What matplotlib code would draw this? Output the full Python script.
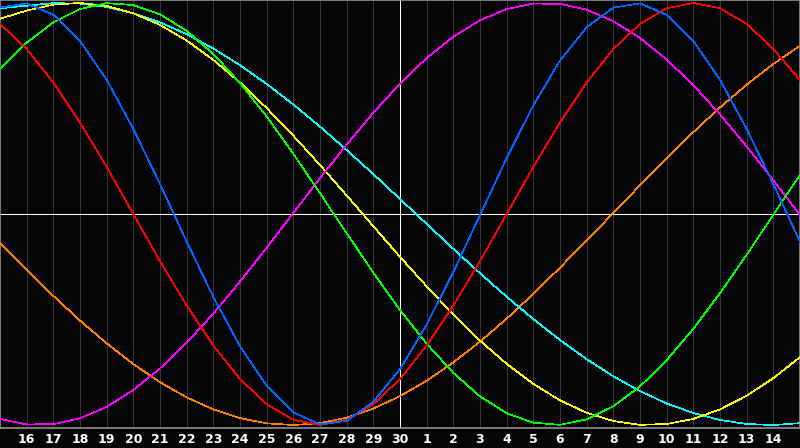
import matplotlib
matplotlib.use("Agg")
import matplotlib.pyplot as plt

# day positions 0..30 (15th of the first month to 15th of the next)
days = list(range(31))
day_labels = ["16", "17", "18", "19", "20", "21", "22", "23", "24", "25", "26", "27",
              "28", "29", "30", "1", "2", "3", "4", "5", "6", "7", "8", "9", "10",
              "11", "12", "13", "14"]
today = 15

# values, one per day
physical = [0.978, 0.998, 0.944, 0.820, 0.636, 0.403, 0.142, -0.131, -0.393, -0.627,
            -0.814, -0.940, -0.997, -0.980, -0.890, -0.735, -0.524, -0.275, -0.005, 0.265,
            0.515, 0.727, 0.885, 0.978, 0.998, 0.944, 0.820, 0.636, 0.403, 0.142, -0.131]
emotional = [0.901, 0.782, 0.623, 0.434, 0.223, 0.0, -0.223, -0.434, -0.623, -0.782,
             -0.901, -0.975, -1.0, -0.975, -0.901, -0.782, -0.623, -0.434, -0.223, 0.0,
             0.223, 0.434, 0.623, 0.782, 0.901, 0.975, 1.0, 0.975, 0.901, 0.782, 0.635]
intellectual = [0.687, 0.812, 0.908, 0.971, 0.999, 0.990, 0.946, 0.868, 0.758, 0.621,
                0.462, 0.285, 0.099, -0.091, -0.278, -0.455, -0.615, -0.753, -0.864, -0.944,
                -0.989, -0.999, -0.973, -0.911, -0.817, -0.693, -0.544, -0.375, -0.193, -0.004,
                0.186]
intuitive = [-0.971, -0.997, -0.996, -0.968, -0.914, -0.834, -0.732, -0.610, -0.472, -0.320,
             -0.160, 0.005, 0.170, 0.329, 0.480, 0.618, 0.739, 0.840, 0.918, 0.971,
             0.997, 0.996, 0.968, 0.914, 0.834, 0.732, 0.610, 0.472, 0.320, 0.160, -0.005]
aesthetic = [0.925, 0.964, 0.992, 1.000, 0.986, 0.951, 0.896, 0.822, 0.730, 0.623,
             0.502, 0.371, 0.232, 0.088, -0.058, -0.203, -0.343, -0.477, -0.600, -0.710,
             -0.805, -0.883, -0.942, -0.981, -0.999, -0.995, -0.971, -0.926, -0.861, -0.778,
             -0.678]
awareness = [-0.136, -0.264, -0.388, -0.505, -0.613, -0.711, -0.797, -0.869, -0.926, -0.967,
             -0.992, -1.000, -0.991, -0.965, -0.922, -0.863, -0.790, -0.703, -0.605, -0.496,
             -0.378, -0.254, -0.125, 0.005, 0.136, 0.264, 0.388, 0.505, 0.613, 0.711, 0.797]
spiritual = [0.975, 0.987, 0.999, 0.997, 0.981, 0.951, 0.908, 0.852, 0.784, 0.705,
             0.616, 0.519, 0.414, 0.303, 0.189, 0.071, -0.047, -0.165, -0.281, -0.392,
             -0.498, -0.597, -0.688, -0.769, -0.839, -0.898, -0.943, -0.976, -0.995, -1.000,
             -0.991]

series = [
    (awareness, "#ff8000"),
    (spiritual, "#00ffff"),
    (aesthetic, "#ffff00"),
    (intuitive, "#ff00ff"),
    (intellectual, "#00ff00"),
    (emotional, "#ff0000"),
    (physical, "#0066ff"),
]

bg = "#050508"
px = 0.5  # thin, one pixel when not antialiased

fig = plt.figure(figsize=(8, 4.48), dpi=100, facecolor=bg)
ax = fig.add_axes([0, 20 / 448, 1, 428 / 448], facecolor=bg)

for d in days[1:-1]:
    ax.axvline(d, color="#363636", lw=px, antialiased=False, zorder=1)
ax.axvline(today, color="white", lw=px, antialiased=False, zorder=2)
ax.axhline(0, color="white", lw=px, antialiased=False, zorder=2)

for vals, col in series:
    ax.plot(days, vals, color=col, lw=px, antialiased=False, zorder=3)

ax.set_xlim(0, 30)
ax.set_ylim(-1.014, 1.014)
ax.set_yticks([])
ax.set_xticks(days[1:-1])
ax.set_xticklabels(day_labels, color="white", fontsize=9, fontweight="bold",
                   family="DejaVu Sans")
ax.tick_params(axis="x", length=0, pad=3.5)
for s in ax.spines.values():
    s.set_color("#909090")
    s.set_linewidth(1.2)

fig.savefig("out.png", dpi=100, facecolor=bg)
